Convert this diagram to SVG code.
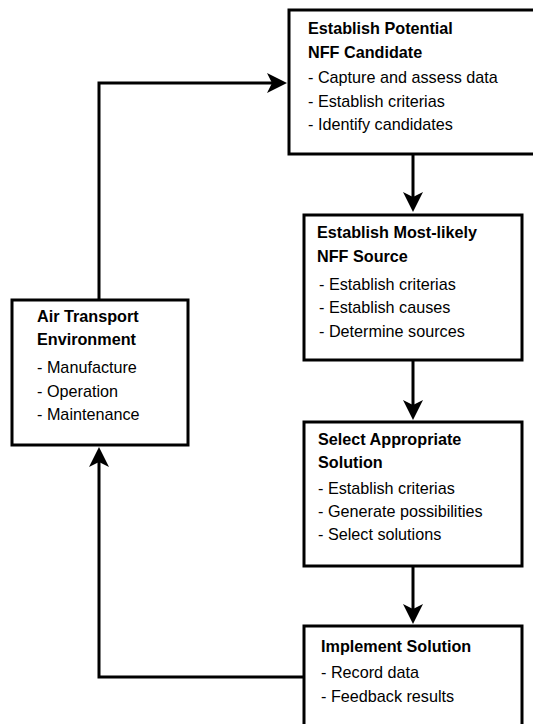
<svg xmlns="http://www.w3.org/2000/svg" width="533" height="724" viewBox="0 0 533 724">
<defs>
<style>
.box{fill:#fff;stroke:#000;stroke-width:3}
.t{font-family:"Liberation Sans",Arial,sans-serif;font-size:16.2px;fill:#000}
.b{font-weight:bold}
.c{fill:none;stroke:#000;stroke-width:3}
</style>
<marker id="ah" viewBox="0 0 20 20" refX="10" refY="10" markerWidth="20" markerHeight="20" markerUnits="userSpaceOnUse" orient="auto">
<path d="M0,0 L20,10 L0,20 L5,10 z" fill="#000"/>
</marker>
</defs>
<rect width="533" height="724" fill="#fff"/>
<g id="connectors">
<path class="c" d="M99,300 V83 H277" marker-end="url(#ah)"/>
<path class="c" d="M413,154 V202" marker-end="url(#ah)"/>
<path class="c" d="M413,360 V410" marker-end="url(#ah)"/>
<path class="c" d="M413,566 V614" marker-end="url(#ah)"/>
<path class="c" d="M304,677 H99 V457" marker-end="url(#ah)"/>
</g>
<g id="n1">
<rect class="box" x="289" y="10" width="260" height="144"/>
<text class="t b" x="308" y="34">Establish Potential</text>
<text class="t b" x="308" y="58">NFF Candidate</text>
<text class="t" x="308" y="83">- Capture and assess data</text>
<text class="t" x="308" y="107">- Establish criterias</text>
<text class="t" x="308" y="130">- Identify candidates</text>
</g>
<g id="n2">
<rect class="box" x="304" y="215" width="218" height="145"/>
<text class="t b" x="317" y="238">Establish Most-likely</text>
<text class="t b" x="317" y="262">NFF Source</text>
<text class="t" x="319" y="290">- Establish criterias</text>
<text class="t" x="319" y="313">- Establish causes</text>
<text class="t" x="319" y="337">- Determine sources</text>
</g>
<g id="n3">
<rect class="box" x="304" y="422" width="218" height="144"/>
<text class="t b" x="318" y="445">Select Appropriate</text>
<text class="t b" x="318" y="468">Solution</text>
<text class="t" x="318" y="494">- Establish criterias</text>
<text class="t" x="318" y="517">- Generate possibilities</text>
<text class="t" x="318" y="540">- Select solutions</text>
</g>
<g id="n4">
<rect class="box" x="304" y="626" width="218" height="120"/>
<text class="t b" x="321" y="652">Implement Solution</text>
<text class="t" x="321" y="678">- Record data</text>
<text class="t" x="321" y="702">- Feedback results</text>
</g>
<g id="n5">
<rect class="box" x="12" y="300" width="176" height="145"/>
<text class="t b" x="37" y="322">Air Transport</text>
<text class="t b" x="37" y="345">Environment</text>
<text class="t" x="37" y="373">- Manufacture</text>
<text class="t" x="37" y="397">- Operation</text>
<text class="t" x="37" y="420">- Maintenance</text>
</g>
</svg>
